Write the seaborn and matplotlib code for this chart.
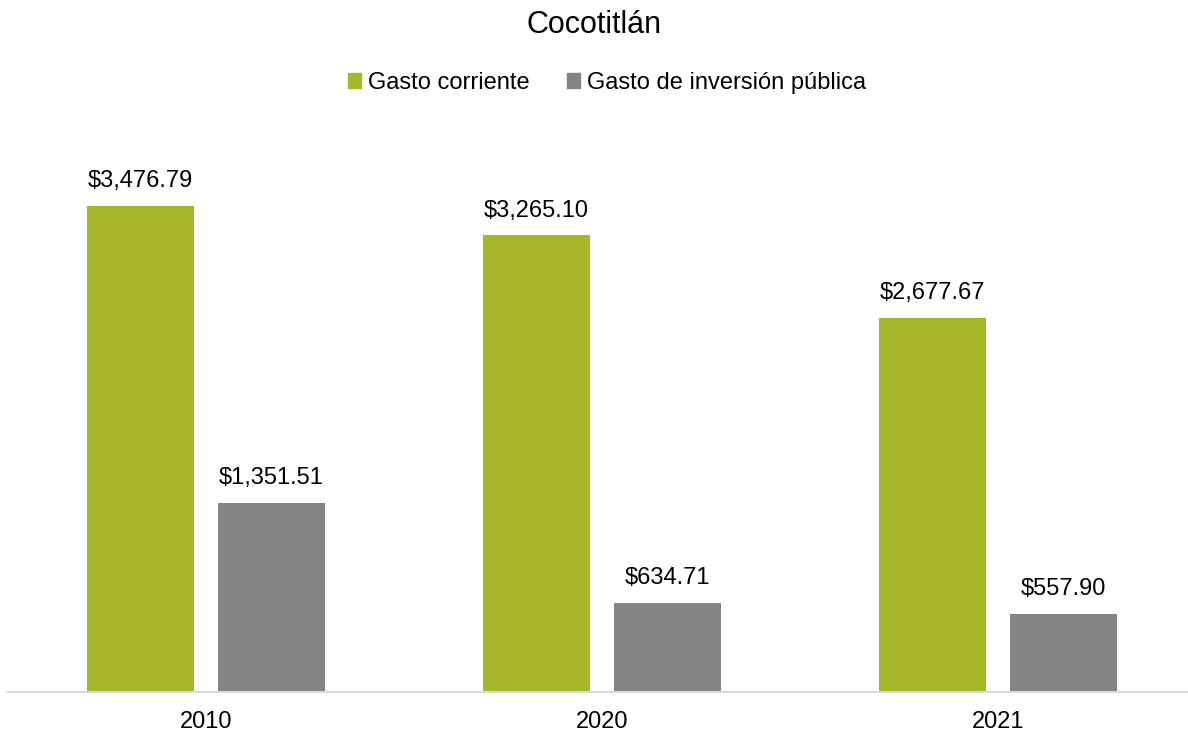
"""
Cocotitlán: gasto corriente vs gasto de inversión pública.
"""

import matplotlib.pyplot as plt
import matplotlib.patches as mpatches
import pandas as pd
import seaborn as sns

YEARS = ["2010", "2020", "2021"]
SERIES = ["Gasto corriente", "Gasto de inversión pública"]
GASTO_CORRIENTE = [3476.79, 3265.10, 2677.67]
GASTO_INVERSION = [1351.51, 634.71, 557.90]
COLORS = ["#A6B82A", "#848484"]

df = pd.DataFrame({
    "year": YEARS * 2,
    "serie": [SERIES[0]] * 3 + [SERIES[1]] * 3,
    "value": GASTO_CORRIENTE + GASTO_INVERSION,
})

sns.set_style("white")
plt.rcParams["font.family"] = ["Liberation Sans", "DejaVu Sans"]
plt.rcParams["text.color"] = "#000000"

fig = plt.figure(figsize=(11.88, 7.33), dpi=100)
ax = fig.add_axes([0.0067, 0.056, 1.0, 0.763])

sns.barplot(
    data=df, x="year", y="value", hue="serie", hue_order=SERIES,
    palette=COLORS, width=0.662, gap=0.19, ax=ax, legend=False,
    saturation=1, linewidth=0,
)

for container in ax.containers:
    ax.bar_label(container, labels=[f"${v:,.2f}" for v in container.datavalues],
                 padding=10, fontsize=17, color="#000000")

ax.set_ylim(0, 4000)
ax.set_xlim(-0.5, 2.5)
ax.set_xlabel("")
ax.set_ylabel("")
ax.set_yticks([])
ax.tick_params(axis="x", length=0, pad=14, labelsize=17, labelcolor="#000000")
for side in ["top", "right", "left"]:
    ax.spines[side].set_visible(False)
ax.spines["bottom"].set_color("#D9D9D9")
ax.spines["bottom"].set_linewidth(1.5)

fig.suptitle("Cocotitlán", y=0.966, va="center", fontsize=22, color="#000000")

handles = [mpatches.Patch(color=c, label=s) for c, s in zip(COLORS, SERIES)]
leg = fig.legend(handles=handles, loc="center", bbox_to_anchor=(0.511, 0.887), ncol=2,
                 frameon=False, fontsize=17, handlelength=0.55, handleheight=0.55,
                 handletextpad=0.3, columnspacing=1.6)
for t in leg.get_texts():
    t.set_color("#000000")

fig.savefig("out.png", dpi=100)
